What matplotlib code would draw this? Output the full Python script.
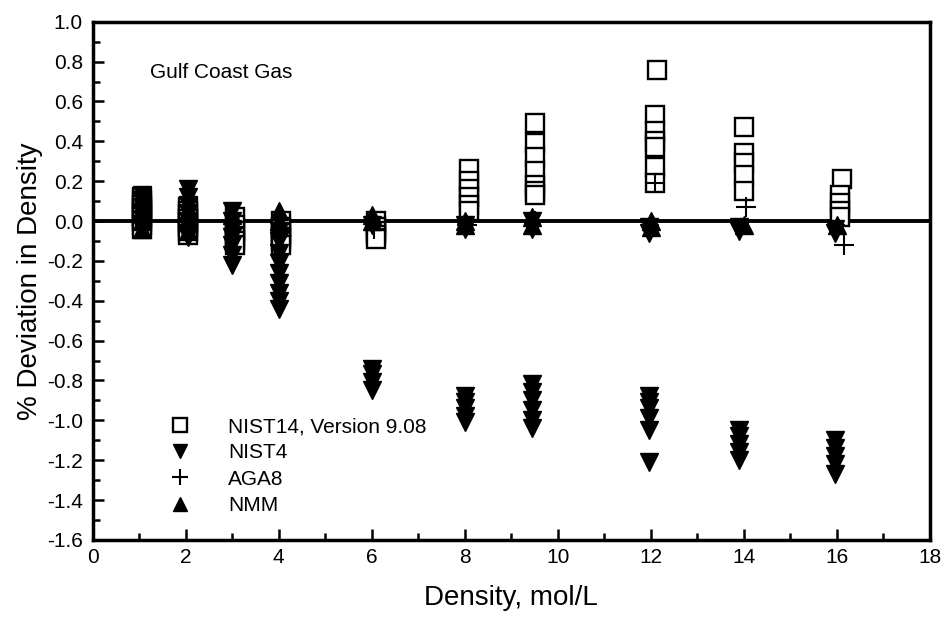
import matplotlib.pyplot as plt
from matplotlib.ticker import MultipleLocator, FormatStrFormatter

plt.rcParams['font.family'] = ['Liberation Sans', 'DejaVu Sans']
plt.rcParams['axes.unicode_minus'] = False

# NIST14, Version 9.08 (open squares)
nist14_x = [1.05]*9 + [2.05]*8 + [3.05]*6 + [4.05]*6 + [6.1]*5 + [8.1]*6 \
    + [9.5]*7 + [12.13] + [12.08]*6 + [14.0]*5 + [16.1] + [16.06]*4
nist14_y = [0.12, 0.10, 0.08, 0.06, 0.04, 0.02, 0.00, -0.02, -0.04,
            0.07, 0.05, 0.03, 0.01, -0.01, -0.03, -0.05, -0.07,
            0.02, -0.02, -0.05, -0.08, -0.10, -0.12,
            0.00, -0.03, -0.06, -0.08, -0.10, -0.12,
            0.00, -0.03, -0.05, -0.07, -0.09,
            0.26, 0.20, 0.16, 0.12, 0.08, 0.05,
            0.49, 0.39, 0.32, 0.25, 0.18, 0.15, 0.13,
            0.76, 0.53, 0.45, 0.40, 0.37, 0.27, 0.19,
            0.47, 0.34, 0.29, 0.23, 0.15,
            0.21, 0.13, 0.09, 0.05, 0.02]

# NIST4 (filled down triangles)
nist4_x = [1.05]*7 + [2.05]*8 + [3.0]*7 + [4.0]*9 + [6.0]*5 + [8.0]*7 \
    + [9.45]*8 + [11.95]*8 + [13.9]*7 + [15.96]*7
nist4_y = [0.13, 0.10, 0.07, 0.04, 0.01, -0.02, -0.04,
           0.16, 0.12, 0.08, 0.04, 0.00, -0.03, -0.06, -0.08,
           0.05, 0.00, -0.04, -0.08, -0.12, -0.17, -0.22,
           -0.05, -0.10, -0.16, -0.21, -0.26, -0.31, -0.36, -0.40, -0.44,
           -0.02, -0.74, -0.77, -0.81, -0.85,
           -0.02, -0.04, -0.88, -0.91, -0.94, -0.98, -1.01,
           0.00, -0.04, -0.82, -0.86, -0.90, -0.95, -1.00, -1.04,
           -0.03, -0.06, -0.88, -0.91, -0.94, -0.99, -1.05, -1.21,
           -0.03, -0.05, -1.05, -1.08, -1.12, -1.16, -1.20,
           -0.04, -0.06, -1.10, -1.14, -1.18, -1.22, -1.27]

# AGA8 (plus)
aga8_x = [1.05, 2.05, 3.05, 4.05, 6.05, 8.05, 9.5, 12.1, 14.05, 16.15]
aga8_y = [0.02, 0.00, -0.03, -0.05, -0.04, -0.02, 0.00, 0.19, 0.07, -0.12]

# NMM (filled up triangles)
nmm_x = [1.05, 1.05, 1.05, 2.05, 2.05, 3.0, 4.0, 4.0, 6.0, 6.0, 8.0, 8.0,
         9.45, 9.45, 12.0, 12.0, 14.0, 16.0]
nmm_y = [-0.04, 0.00, 0.04, -0.05, 0.00, 0.03, 0.05, 0.00, 0.03, 0.00,
         0.00, -0.02, 0.02, -0.02, 0.00, -0.03, -0.02, -0.02]

fig = plt.figure(figsize=(9.46, 6.22), dpi=100)
ax = fig.add_axes([0.098, 0.132, 0.885, 0.833])

ax.axhline(0, color='black', lw=2.8, zorder=1)

ax.plot(nist14_x, nist14_y, ls='none', marker='s', ms=13, mfc='white',
        mec='black', mew=1.7, label='NIST14, Version 9.08', zorder=3)
ax.plot(nist4_x, nist4_y, ls='none', marker='v', ms=13, color='black',
        label='NIST4', zorder=4)
ax.plot(aga8_x, aga8_y, ls='none', marker='+', ms=14, mew=1.5,
        color='black', label='AGA8', zorder=5)
ax.plot(nmm_x, nmm_y, ls='none', marker='^', ms=13, color='black',
        label='NMM', zorder=4)

ax.set_xlim(0, 18)
ax.set_ylim(-1.6, 1.0)
ax.xaxis.set_major_locator(MultipleLocator(2))
ax.xaxis.set_minor_locator(MultipleLocator(1))
ax.yaxis.set_major_locator(MultipleLocator(0.2))
ax.yaxis.set_minor_locator(MultipleLocator(0.1))
ax.yaxis.set_major_formatter(FormatStrFormatter('%.1f'))

ax.tick_params(which='both', direction='in', width=1.8, labelsize=15)
ax.tick_params(which='major', length=8)
ax.tick_params(which='minor', length=5)
ax.tick_params(axis='x', pad=6)
ax.tick_params(axis='y', pad=7)
for s in ax.spines.values():
    s.set_linewidth(2.5)

ax.set_xlabel('Density, mol/L', fontsize=20, labelpad=13)
ax.set_ylabel('% Deviation in Density', fontsize=20, labelpad=3)

ax.text(0.068, 0.903, 'Gulf Coast Gas', transform=ax.transAxes,
        fontsize=15, va='center', ha='left')

ax.legend(loc='upper left', bbox_to_anchor=(0.067, 0.257), frameon=False,
          fontsize=15, handlelength=2, handletextpad=1.3, labelspacing=0.35,
          borderpad=0, markerscale=0.8)

plt.savefig('out.png', dpi=100)
